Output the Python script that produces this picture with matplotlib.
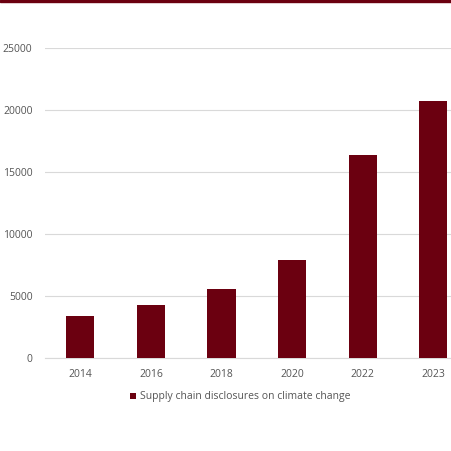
import matplotlib
matplotlib.use("Agg")
import matplotlib.pyplot as plt

years = ["2014", "2016", "2018", "2020", "2022", "2023"]
values = [3400, 4300, 5600, 7900, 16400, 20700]
yticks = [0, 5000, 10000, 15000, 20000, 25000]

plt.rcParams['font.family'] = ['Open Sans', 'DejaVu Sans']
fig = plt.figure(figsize=(4.51, 4.51), dpi=100)
ax = fig.add_axes([45/451, 1-358/451, 406/451, 310/451])
x = range(len(years))
ax.bar(x, values, width=0.4, color="#6b0010", zorder=3,
       label="Supply chain disclosures on climate change")
ax.set_xlim(-0.5, 5.25)
ax.set_ylim(0, 25000)
ax.set_yticks(yticks)
ax.set_yticklabels([str(t) for t in yticks], fontsize=7.5, color="#555555")
ax.set_xticks(list(x))
ax.set_xticklabels(years, fontsize=7.5, color="#555555")
ax.yaxis.grid(True, color="#d9d9d9", linewidth=0.8, zorder=0)
for s in ["top", "right", "left"]:
    ax.spines[s].set_visible(False)
ax.spines["bottom"].set_color("#d9d9d9")
ax.tick_params(length=0, pad=8)
ax.tick_params(axis='y', pad=9)
fig.legend(loc="center", bbox_to_anchor=(240/451, 1-397/451), frameon=False,
           fontsize=7.5, handlelength=0.6, handleheight=0.6, handletextpad=0.4,
           labelcolor="#555555")
fig.add_artist(plt.Rectangle((0, 1-2/451), 1, 2/451, color="#6b0010", transform=fig.transFigure))
fig.savefig("out.png", dpi=100)
